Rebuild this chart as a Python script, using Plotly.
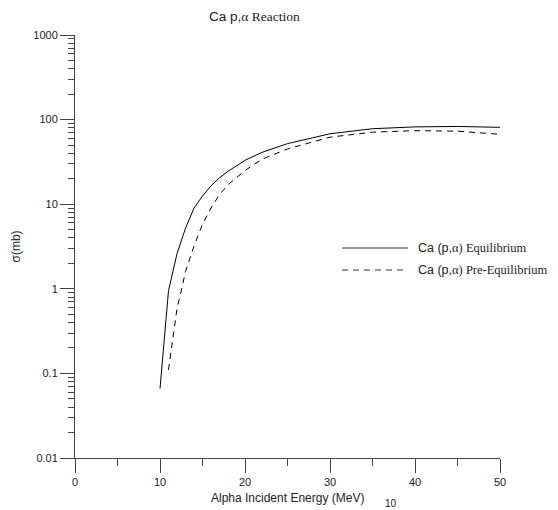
import plotly.graph_objects as go

energy_eq = [10, 11, 12, 13, 14, 15, 16, 17, 18, 20, 22, 25, 30, 35, 40, 45, 50]
sigma_eq = [0.066, 0.95, 2.6, 5.2, 9.0, 12.5, 16.5, 20.5, 24.5, 33, 41, 52, 68, 78, 82, 83, 81]

energy_pre = [11, 11.5, 12, 12.5, 13, 14, 15, 16, 17, 18, 20, 22, 25, 30, 35, 40, 45, 50]
sigma_pre = [0.11, 0.26, 0.58, 0.95, 1.6, 3.2, 5.8, 9.0, 13, 17, 25, 34, 45, 62, 71, 74, 73, 67]

x_ticks = [0, 10, 20, 30, 40, 50]
x_minor = [5, 15, 25, 35, 45]
y_ticks = [0.01, 0.1, 1, 10, 100, 1000]
y_ticktext = ["0.01", "0.1", "1", "10", "100", "1000"]
y_minor = [m * 10 ** e for e in range(-2, 3) for m in range(2, 10)]

SANS = "Liberation Sans, Arial, sans-serif"
SERIF = "Liberation Serif, Times New Roman, serif"
AX = "#444444"
TXT = "#222222"

L, R, T, B = 75, 58, 35, 52
W, H = 558, 510
PW, PH = W - L - R, H - T - B

fig = go.Figure()
fig.add_trace(go.Scatter(x=energy_eq, y=sigma_eq, mode="lines",
                         line=dict(color="black", width=1), showlegend=False))
fig.add_trace(go.Scatter(x=energy_pre, y=sigma_pre, mode="lines",
                         line=dict(color="black", width=1, dash="6px,5px"), showlegend=False))

fig.update_layout(
    width=W, height=H,
    margin=dict(l=L, r=R, t=T, b=B, autoexpand=False),
    paper_bgcolor="white", plot_bgcolor="white",
    font=dict(family=SANS, size=11, color=TXT),
    xaxis=dict(range=[0, 50], showgrid=False, zeroline=False, showline=True, automargin=False,
               linecolor=AX, linewidth=1, ticks="outside", ticklen=14, tickcolor=AX,
               tickvals=x_ticks, ticktext=[str(v) for v in x_ticks],
               minor=dict(tickvals=x_minor, ticks="outside", ticklen=7, tickcolor=AX),
               tickfont=dict(family=SANS, size=11, color=TXT)),
    yaxis=dict(type="log", range=[-2, 3], showgrid=False, zeroline=False, showline=True, automargin=False,
               linecolor=AX, linewidth=1, ticks="outside", ticklen=14, tickcolor=AX,
               tickvals=y_ticks, ticktext=y_ticktext,
               minor=dict(tickvals=y_minor, ticks="outside", ticklen=6, tickcolor=AX),
               tickfont=dict(family=SANS, size=11, color=TXT)),
)


def px_x(px):
    return (px - L) / PW


def px_y(py):
    return (H - B - py) / PH


serif_span = '<span style="font-family:Liberation Serif, Times New Roman, serif">'

# title
fig.add_annotation(xref="paper", yref="paper", x=px_x(254), y=px_y(17),
                   text='Ca p,' + serif_span + 'α Reaction</span>',
                   showarrow=False, xanchor="center", yanchor="middle",
                   font=dict(family=SANS, size=13.5, color=TXT))

# axis titles
fig.add_annotation(xref="paper", yref="paper", x=0.5, y=px_y(498),
                   text="Alpha Incident Energy (MeV)", showarrow=False,
                   xanchor="center", yanchor="middle",
                   font=dict(family=SANS, size=12, color=TXT))
fig.add_annotation(xref="paper", yref="paper", x=px_x(15), y=0.5,
                   text="σ(mb)", showarrow=False, textangle=-90,
                   xanchor="center", yanchor="middle",
                   font=dict(family=SANS, size=12, color=TXT))

# legend (manual)
legend_items = [
    ("Ca (p,", "α) Equilibrium", "solid", 248),
    ("Ca (p,", "α) Pre-Equilibrium", "6px,5px", 270),
]
for a, b, dash, py in legend_items:
    fig.add_shape(type="line", xref="paper", yref="paper",
                  x0=px_x(342), x1=px_x(408), y0=px_y(py), y1=px_y(py),
                  line=dict(color="#333333", width=1, dash=dash))
    fig.add_annotation(xref="paper", yref="paper", x=px_x(416), y=px_y(py),
                       text=a + serif_span + b + '</span>',
                       showarrow=False, xanchor="left", yanchor="middle",
                       font=dict(family=SANS, size=12.5, color=TXT))

# small stray label at bottom
fig.add_annotation(xref="paper", yref="paper", x=px_x(391), y=px_y(503),
                   text="10", showarrow=False, xanchor="center", yanchor="middle",
                   font=dict(family=SANS, size=10, color=TXT))

fig.write_html("out.html", config={"displayModeBar": False},
               post_script="document.body.style.margin='0';document.body.style.overflow='hidden';")
